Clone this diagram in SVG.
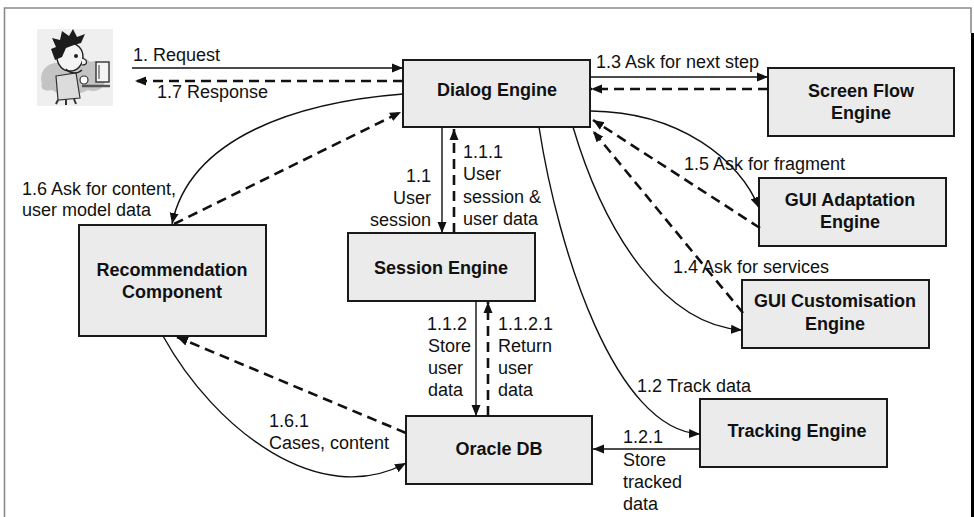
<svg xmlns="http://www.w3.org/2000/svg" width="974" height="517" viewBox="0 0 974 517">
  <style>
    .box { fill: #ebebeb; stroke: #1a1a1a; stroke-width: 2; }
    .name { font-family: "Liberation Sans", Arial, sans-serif; font-size: 18px; font-weight: bold; fill: #111; text-anchor: middle; }
    .lbl { font-family: "Liberation Sans", Arial, sans-serif; font-size: 18px; fill: #111; }
    .call { fill: none; stroke: #111; stroke-width: 1.4; marker-end: url(#head); }
    .reply { fill: none; stroke: #111; stroke-width: 2.6; stroke-dasharray: 10 6; marker-end: url(#head); }
  </style>
  <defs>
    <marker id="head" markerUnits="userSpaceOnUse" markerWidth="12" markerHeight="10" refX="11" refY="5" orient="auto">
      <path d="M0,0.5 L11,5 L0,9.5 Z" fill="#111"/>
    </marker>
  </defs>

  <!-- page frame -->
  <rect x="0" y="0" width="974" height="517" fill="#ffffff"/>
  <path d="M4.5,517 V8 H971 V33" fill="none" stroke="#8a8a8a" stroke-width="1.6"/>
  <rect x="971" y="33" width="3" height="484" fill="#000"/>

  <!-- user at a computer -->
  <g id="user">
    <rect x="37" y="29" width="76" height="77" fill="#efefef"/>
    <path d="M42,84 C38,70 50,60 62,64 C66,54 84,54 90,62 C100,58 108,66 104,76 C108,86 98,94 88,90 C78,96 60,96 52,90 C44,92 40,88 42,84 Z" fill="#c4c4c4"/>
    <path d="M56,76 L76,73 L80,98 L58,100 Z" fill="#dcdcdc" stroke="#333" stroke-width="1.2"/>
    <path d="M58,100 L56,104 M66,100 L66,105 M74,99 L76,104" stroke="#333" stroke-width="2"/>
    <ellipse cx="70" cy="57" rx="13" ry="14" fill="#f4f4f4" stroke="#222" stroke-width="1.4"/>
    <circle cx="76" cy="56" r="2" fill="#222"/>
    <path d="M82,58 C88,60 88,65 82,65" fill="#f4f4f4" stroke="#222" stroke-width="1.2"/>
    <path d="M55,60 L51,49 L56,47 L52,38 L60,40 L62,31 L69,36 L73,29 L77,37 L85,34 L81,43 L74,45 L66,48 L62,57 Z" fill="#1c1c1c"/>
    <path d="M66,69 C70,74 78,74 82,70" fill="none" stroke="#222" stroke-width="1.4"/>
    <circle cx="84" cy="80" r="4" fill="#fff" stroke="#333" stroke-width="1.2"/>
    <rect x="96" y="62" width="13" height="20" fill="#f4f4f4" stroke="#333" stroke-width="1.4"/>
    <path d="M99,65 V79" stroke="#333" stroke-width="1"/>
    <path d="M82,86 H110" stroke="#555" stroke-width="2.5"/>
  </g>

  <!-- components -->
  <g id="dialog-engine">
    <rect class="box" x="403" y="60" width="187" height="67"/>
    <text class="name" x="497" y="96">Dialog Engine</text>
  </g>
  <g id="screen-flow-engine">
    <rect class="box" x="768" y="68" width="186" height="68"/>
    <text class="name" x="861" y="97">Screen Flow</text>
    <text class="name" x="861" y="119">Engine</text>
  </g>
  <g id="gui-adaptation-engine">
    <rect class="box" x="759" y="178" width="187" height="68"/>
    <text class="name" x="850" y="206">GUI Adaptation</text>
    <text class="name" x="850" y="228">Engine</text>
  </g>
  <g id="gui-customisation-engine">
    <rect class="box" x="742" y="280" width="187" height="68"/>
    <text class="name" x="835" y="307">GUI Customisation</text>
    <text class="name" x="835" y="330">Engine</text>
  </g>
  <g id="session-engine">
    <rect class="box" x="348" y="233" width="187" height="68"/>
    <text class="name" x="441" y="274">Session Engine</text>
  </g>
  <g id="recommendation-component">
    <rect class="box" x="79" y="225" width="187" height="111"/>
    <text class="name" x="172" y="276">Recommendation</text>
    <text class="name" x="172" y="298">Component</text>
  </g>
  <g id="oracle-db">
    <rect class="box" x="406" y="416" width="186" height="68"/>
    <text class="name" x="499" y="455">Oracle DB</text>
  </g>
  <g id="tracking-engine">
    <rect class="box" x="700" y="399" width="187" height="68"/>
    <text class="name" x="797" y="437">Tracking Engine</text>
  </g>

  <!-- connectors -->
  <g id="connectors">
    <path class="call" d="M132,68 H403"/>
    <path class="reply" d="M403,81 H135"/>
    <path class="call" d="M590,77 H768"/>
    <path class="reply" d="M768,89 H591"/>
    <path class="call" d="M403,94 C300,102 190,136 172,224"/>
    <path class="reply" d="M174,224 L401,112"/>
    <path class="call" d="M442,127 V233"/>
    <path class="reply" d="M454,233 V129"/>
    <path class="call" d="M476,301 V416"/>
    <path class="reply" d="M488,416 V302"/>
    <path class="call" d="M591,111 C680,112 740,160 759,208"/>
    <path class="reply" d="M760,228 L593,120"/>
    <path class="call" d="M573,127 C605,235 665,325 742,330"/>
    <path class="reply" d="M743,313 L593,131"/>
    <path class="call" d="M539,127 C558,250 615,430 700,434"/>
    <path class="call" d="M700,449 H593"/>
    <path class="call" d="M163,336 C215,430 320,510 406,463"/>
    <path class="reply" d="M406,433 L177,337"/>
  </g>

  <!-- message labels -->
  <g id="labels" class="lbl">
    <text x="133" y="61">1. Request</text>
    <text x="157" y="98">1.7 Response</text>
    <text x="596" y="68">1.3 Ask for next step</text>
    <text x="684" y="170">1.5 Ask for fragment</text>
    <text x="673" y="273">1.4 Ask for services</text>
    <text x="22" y="195">1.6 Ask for content,</text>
    <text x="22" y="216">user model data</text>
    <text x="431" y="182" text-anchor="end">1.1</text>
    <text x="431" y="204" text-anchor="end">User</text>
    <text x="431" y="226" text-anchor="end">session</text>
    <text x="463" y="158">1.1.1</text>
    <text x="463" y="180">User</text>
    <text x="463" y="203">session &amp;</text>
    <text x="463" y="225">user data</text>
    <text x="427" y="330">1.1.2</text>
    <text x="428" y="352">Store</text>
    <text x="428" y="374">user</text>
    <text x="428" y="396">data</text>
    <text x="498" y="330">1.1.2.1</text>
    <text x="498" y="352">Return</text>
    <text x="498" y="374">user</text>
    <text x="498" y="396">data</text>
    <text x="637" y="392">1.2 Track data</text>
    <text x="623" y="443">1.2.1</text>
    <text x="623" y="466">Store</text>
    <text x="623" y="488">tracked</text>
    <text x="623" y="510">data</text>
    <text x="269" y="427">1.6.1</text>
    <text x="269" y="449">Cases, content</text>
  </g>
</svg>
